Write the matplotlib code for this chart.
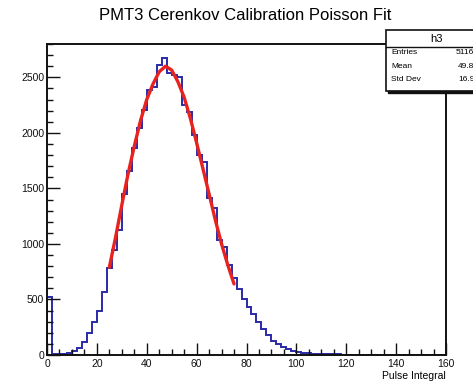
import numpy as np
import matplotlib
matplotlib.use("Agg")
import matplotlib.pyplot as plt
from matplotlib.patches import Rectangle
from matplotlib.ticker import MultipleLocator

INK, BLUE, RED = "#111111", "#2a2aa8", "#e8231f"
plt.rcParams.update({"font.family": ["Liberation Sans", "DejaVu Sans"]})

# --- histogram h3: 2-unit bins from 0 to 160 ------------------------------------------
bin_edges = np.arange(0, 162, 2)
counts = [520, 5, 8, 12, 20, 35, 65, 120, 195, 300, 400, 570,
          780, 945, 1125, 1448, 1655, 1860, 2040, 2203, 2383, 2413, 2608, 2670, 2540,
          2520, 2500, 2250, 2190, 1980, 1800, 1740, 1410, 1320, 1035, 975, 810, 690,
          590, 500, 430, 370, 300, 235, 180, 130, 100, 70, 50, 35, 25, 20, 15, 12,
          10, 8, 7, 6, 5, 4, 3, 3, 2, 2, 2, 1, 1, 1, 1, 0, 1, 0, 0, 1, 0, 0, 0, 0, 0, 0]

# --- Poisson fit curve -----------------------------------------------------------------
fit_x = [25, 27.5, 30, 32.5, 35, 37.5, 40, 42.5, 45, 47.5, 50, 52.5, 55, 57.5,
         60, 62.5, 65, 67.5, 70, 72.5, 75]
fit_y = [790, 1060, 1350, 1630, 1880, 2110, 2300, 2440, 2550, 2600, 2565, 2460,
         2320, 2130, 1910, 1680, 1450, 1215, 1000, 810, 640]

stat_names = ["Entries", "Mean", "Std Dev"]
stat_values = ["51164", "49.83", "16.92"]

fig = plt.figure(figsize=(4.73, 3.81), dpi=100)
ax = fig.add_axes([47 / 473, 26 / 381, 399 / 473, 311 / 381])

ax.stairs(counts, bin_edges, color=BLUE, lw=1.4)
ax.plot(fit_x, fit_y, color=RED, lw=2.4, solid_capstyle="round")

ax.set_xlim(0, 160)
ax.set_ylim(0, 2800)
ax.xaxis.set_major_locator(MultipleLocator(20))
ax.xaxis.set_minor_locator(MultipleLocator(5))
ax.yaxis.set_major_locator(MultipleLocator(500))
ax.yaxis.set_minor_locator(MultipleLocator(100))
ax.tick_params(which="both", direction="in", colors=INK, labelsize=7.5,
               top=False, right=False, width=1.0)
ax.tick_params(which="major", length=9, pad=3)
ax.tick_params(which="minor", length=4.5)
ax.tick_params(axis="y", pad=2)
for s in ax.spines.values():
    s.set_linewidth(1.4)
    s.set_color(INK)

ax.set_xlabel("Pulse Integral", fontsize=7.5, loc="right", labelpad=1)
fig.text(245 / 473, 1 - 16 / 381, "PMT3 Cerenkov Calibration Poisson Fit",
         ha="center", va="center", fontsize=12)

# --- ROOT stats box (runs off the right edge, as in the original) ----------------------
def fx(px):
    return px / 473


def fy(py):
    return 1 - py / 381


x0, x1, y0, y1 = 386, 486, 30, 91
fig.add_artist(Rectangle((fx(x0 + 2), fy(y1 + 2)), fx(x1 - x0), (y1 - y0) / 381,
                         transform=fig.transFigure, facecolor=INK, edgecolor=INK, zorder=5))
fig.add_artist(Rectangle((fx(x0), fy(y1)), fx(x1 - x0), (y1 - y0) / 381,
                         transform=fig.transFigure, facecolor="white", edgecolor=INK,
                         lw=1.2, zorder=6))
fig.add_artist(plt.Line2D([fx(x0), fx(x1)], [fy(47), fy(47)], transform=fig.transFigure,
                          color=INK, lw=1.0, zorder=7))
fig.text(fx(436), fy(38.5), "h3", ha="center", va="center", fontsize=8, zorder=8)
for i, (name, val) in enumerate(zip(stat_names, stat_values)):
    yy = fy(53 + 13.3 * i)
    fig.text(fx(391), yy, name, ha="left", va="center", fontsize=6, zorder=8)
    fig.text(fx(479), yy, val, ha="right", va="center", fontsize=6, zorder=8)

fig.savefig("out.png", dpi=100)
